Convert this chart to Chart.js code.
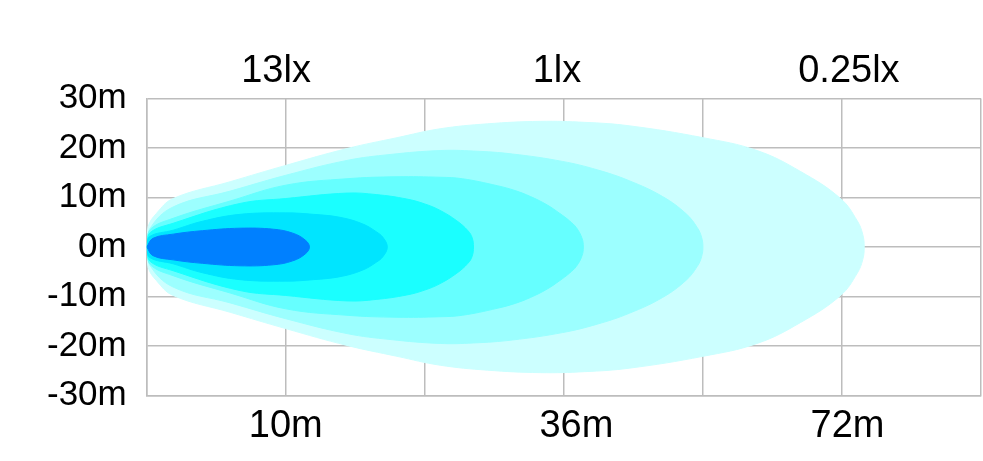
<!DOCTYPE html>
<html>
<head>
<meta charset="utf-8">
<script src="https://cdn.jsdelivr.net/npm/chart.js@4.4.1/dist/chart.umd.min.js"></script>
<style>
  html, body { margin: 0; padding: 0; background: #fff; }
</style>
</head>
<body>
<canvas id="beamChart" width="983" height="461"></canvas>
<script>
// distance grid (6 columns) and lateral spread in metres
const gridSteps = [0, 1, 2, 3, 4, 5, 6];
const yTicks = [-30, -20, -10, 0, 10, 20, 30];

const distLabels = ['10m', '36m', '72m'];
const distLabelAt = [1.0, 3.09, 5.04];
const luxLabels = ['13lx', '1lx', '0.25lx'];
const luxLabelAt = [0.93, 2.95, 5.05];

// upper half of each beam zone (x along grid, w = half width in m), inner -> outer
const zone1X = [0, 0.045, 0.19, 0.4, 0.67, 0.91, 1.05, 1.14, 1.17];
const zone1W = [0, 1.75, 2.6, 3.3, 3.8, 3.6, 2.8, 1.4, 0];
const zone2X = [0, 0.02, 0.19, 0.4, 0.67, 1.0, 1.2, 1.39, 1.55, 1.65, 1.7, 1.73];
const zone2W = [0, 2.1, 3.4, 5.2, 6.6, 6.9, 6.6, 6.0, 4.7, 3.1, 1.9, 0];
const zone3X = [0, 0.02, 0.19, 0.67, 1.0, 1.44, 1.65, 1.87, 2.0, 2.11, 2.23, 2.31, 2.34, 2.35];
const zone3W = [0, 2.8, 4.8, 8.8, 9.8, 10.9, 10.6, 9.7, 8.7, 7.4, 5.3, 3.3, 1.9, 0];
const zone4X = [0, 0.02, 0.19, 0.6, 1.0, 1.44, 1.8, 2.11, 2.27, 2.52, 2.65, 2.76, 2.88, 2.97, 3.04, 3.09, 3.13, 3.14];
const zone4W = [0, 3.4, 5.8, 9.3, 12.5, 13.8, 14.2, 14.1, 13.8, 12.4, 11.4, 10.2, 8.5, 6.8, 5.3, 3.9, 1.8, 0];
const zone5X = [0, 0.02, 0.19, 0.6, 1.0, 1.44, 1.75, 2.11, 2.35, 2.63, 2.99, 3.24, 3.47, 3.71, 3.88, 3.96, 3.99, 4.0];
const zone5W = [0, 3.6, 8.1, 11.3, 14.5, 17.5, 18.7, 19.5, 19.4, 18.8, 17.3, 15.6, 13.4, 10.2, 6.7, 3.9, 2.0, 0];
const zone6X = [0, 0.01, 0.07, 0.19, 0.6, 1.0, 1.44, 1.8, 2.11, 2.45, 2.83, 3.15, 3.47, 4.0, 4.39, 4.70, 4.99, 5.11, 5.15, 5.16];
const zone6W = [0, 4.1, 6.8, 9.8, 13.2, 16.5, 19.9, 22.1, 23.9, 24.9, 25.4, 25.2, 24.5, 22.1, 19.5, 15.3, 9.8, 5.3, 2.5, 0];

const zoneColors = ['#0080ff', '#00e5ff', '#1affff', '#66ffff', '#9cffff', '#ccffff'];

// closed outline: upper edge left->right, then mirrored lower edge back
function outline(xs, ws) {
  const pts = xs.map((x, i) => ({ x: x, y: ws[i] }));
  for (let i = xs.length - 2; i >= 0; i--) {
    pts.push({ x: xs[i], y: -ws[i] });
  }
  return pts;
}

const zones = [
  [zone1X, zone1W], [zone2X, zone2W], [zone3X, zone3W],
  [zone4X, zone4W], [zone5X, zone5W], [zone6X, zone6W]
];

const datasets = zones.map((z, i) => ({
  data: outline(z[0], z[1]),
  showLine: true,
  fill: 'shape',
  tension: 0.4,
  pointRadius: 0,
  borderWidth: 1,
  borderColor: zoneColors[i],
  backgroundColor: zoneColors[i],
  xAxisID: 'x',
  yAxisID: 'y'
}));

const font = "'Liberation Sans', Arial, sans-serif";
const gridColor = '#bdbdbd';

new Chart(document.getElementById('beamChart'), {
  type: 'scatter',
  data: { datasets: datasets },
  options: {
    responsive: false,
    animation: false,
    layout: { padding: { left: 27, right: 2, top: 45, bottom: 4 } },
    plugins: { legend: { display: false }, tooltip: { enabled: false } },
    scales: {
      x: {
        type: 'linear', position: 'bottom', min: 0, max: 6,
        afterBuildTicks: (s) => { s.ticks = gridSteps.map(v => ({ value: v })); },
        ticks: { display: false },
        grid: { color: gridColor, lineWidth: 1.5, drawTicks: false },
        border: { color: gridColor, width: 1.5 }
      },
      xb: {
        type: 'linear', position: 'bottom', min: 0, max: 6, weight: 1,
        afterBuildTicks: (s) => { s.ticks = distLabelAt.map(v => ({ value: v })); },
        ticks: {
          autoSkip: false, maxRotation: 0, padding: 8, color: '#000',
          font: { family: font, size: 38 },
          callback: (v, i) => distLabels[i]
        },
        grid: { display: false, drawTicks: false },
        border: { display: false }
      },
      xt: {
        type: 'linear', position: 'top', min: 0, max: 6,
        afterBuildTicks: (s) => { s.ticks = luxLabelAt.map(v => ({ value: v })); },
        ticks: {
          autoSkip: false, maxRotation: 0, padding: 4, color: '#000',
          font: { family: font, size: 38 },
          callback: (v, i) => luxLabels[i]
        },
        grid: { display: false, drawTicks: false },
        border: { display: false }
      },
      y: {
        min: -30, max: 30,
        afterBuildTicks: (s) => { s.ticks = yTicks.map(v => ({ value: v })); },
        ticks: {
          padding: 20, color: '#000',
          font: { family: font, size: 35 },
          callback: (v) => v + 'm'
        },
        grid: { color: gridColor, lineWidth: 1.5, drawTicks: false },
        border: { color: gridColor, width: 1.5 }
      }
    }
  }
});
</script>
</body>
</html>
